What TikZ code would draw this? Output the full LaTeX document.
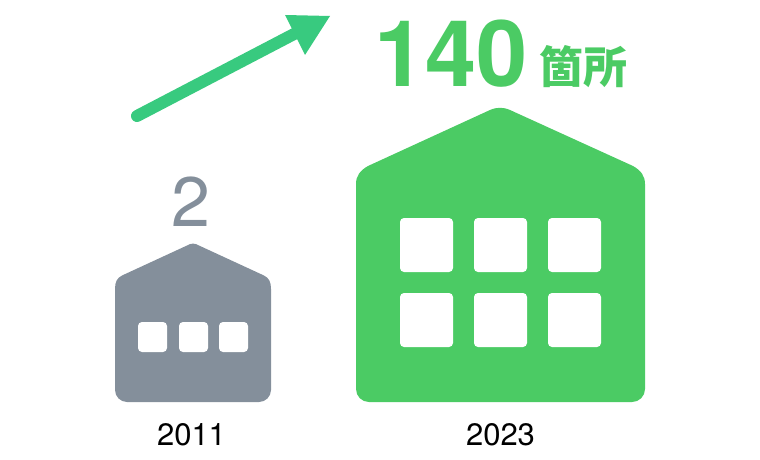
\documentclass[tikz,border=0pt]{standalone}
\usepackage{fontspec}
\setmainfont{TeX Gyre Heros}
\newfontfamily\jpfont{Noto Sans CJK JP}[BoldFont=* Black]
\definecolor{housegreen}{HTML}{4BCB64}
\definecolor{arrowgreen}{HTML}{38CA7F}
\definecolor{housegrey}{HTML}{848F9B}
\tikzset{
  window/.style={fill=white,rounded corners=#1,draw=none},
  yearlabel/.style={inner sep=0pt,anchor=base,text=black,font=\fontsize{31}{31}\selectfont},
}
\begin{document}
\begin{tikzpicture}[x=1pt,y=-1pt]
\useasboundingbox (0,0) rectangle (760,460);
% big house
\fill[housegreen] (369,402) .. controls (361.8,402) and (356,396.2) .. (356,389)
  -- (356,184) .. controls (356,176) and (360,170.5) .. (368,166)
  -- (490,110) .. controls (497,107) and (503,107) .. (510,110)
  -- (633,166) .. controls (641,170.5) and (645,176) .. (645,184)
  -- (645,389) .. controls (645,396.2) and (639.2,402) .. (632,402) -- cycle;
\foreach \x in {400,474,548}{
  \foreach \y in {218,293}{
    \fill[window=4pt] (\x,\y) rectangle ++(53,54);
  }
}
% small house
\fill[housegrey] (127,402) .. controls (120.4,402) and (115,396.6) .. (115,390)
  -- (115,289) .. controls (115,282) and (117,278) .. (122,275.5)
  -- (187,245.5) .. controls (191,243) and (195,243) .. (199,245.5)
  -- (264,275.5) .. controls (269,278) and (271,282) .. (271,289)
  -- (271,390) .. controls (271,396.6) and (265.6,402) .. (259,402) -- cycle;
\foreach \x in {138,179,219}{
  \fill[window=4pt] (\x,322) rectangle ++(29,30);
}
% arrow
\coordinate (arrowstart) at (137,116);
\coordinate (arrowend) at (296,33);
\draw[arrowgreen,line width=12pt,line cap=round] (arrowstart) -- (arrowend);
\fill[arrowgreen] (285,15) -- (330,16) -- (305,55) -- cycle;
% texts
\node[inner sep=0pt,anchor=base west,text=housegreen,font=\fontsize{92}{92}\selectfont\bfseries] (big) at (374,86) {140};
\node[inner sep=0pt,anchor=base west,text=housegreen,font=\fontsize{44}{44}\selectfont\jpfont\bfseries] (unit) at (539,83) {箇所};
\node[inner sep=0pt,anchor=base,text=housegrey,font=\fontsize{70}{70}\selectfont] (two) at (191,226) {2};
\node[yearlabel] (y1) at (191.5,445) {2011};
\node[yearlabel] (y2) at (500.5,445) {2023};
\end{tikzpicture}
\end{document}
